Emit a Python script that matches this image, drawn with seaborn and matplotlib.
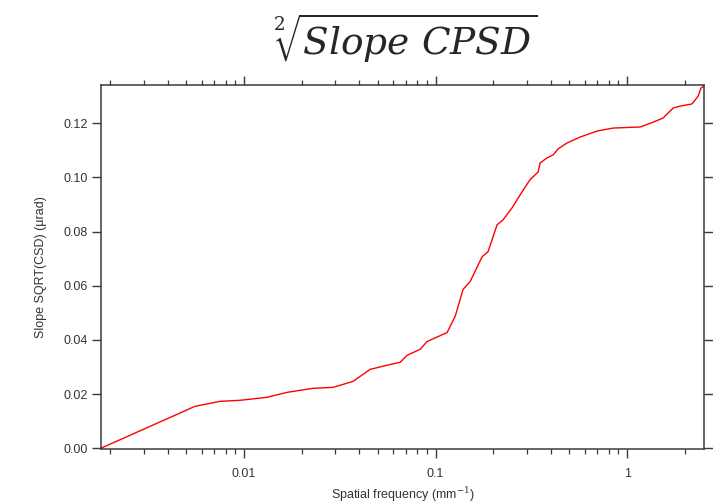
import matplotlib
matplotlib.use("Agg")
import matplotlib.pyplot as plt
import matplotlib.ticker as mticker
import numpy as np
import pandas as pd
import seaborn as sns

# ── Data ──────────────────────────────────────────────────────────────────────
freq = [0.00179, 0.00555, 0.0075, 0.00953, 0.01318, 0.0168, 0.0229, 0.0292,
        0.0371, 0.0455, 0.0578, 0.0653, 0.0710, 0.0830, 0.0903, 0.1148,
        0.1264, 0.131, 0.139, 0.1514, 0.175, 0.188, 0.2094, 0.225, 0.251,
        0.283, 0.311, 0.343, 0.351, 0.382, 0.411, 0.436, 0.486, 0.569,
        0.697, 0.845, 1.17, 1.37, 1.54, 1.74, 1.89, 2.18, 2.35, 2.43, 2.52]
slope = [0.0, 0.01547, 0.0173, 0.01768, 0.01878, 0.02063, 0.0221, 0.02247,
         0.02468, 0.0291, 0.0309, 0.0317, 0.0343, 0.0365, 0.0394, 0.0427,
         0.0486, 0.0523, 0.0586, 0.0615, 0.0707, 0.0726, 0.0825, 0.0843,
         0.0888, 0.0947, 0.0991, 0.1020, 0.1053, 0.1072, 0.1083, 0.1105,
         0.1127, 0.1149, 0.1171, 0.1182, 0.1186, 0.1204, 0.1219, 0.1256,
         0.1263, 0.1271, 0.1300, 0.1330, 0.1337]

df = pd.DataFrame({"freq": freq, "slope": slope})

sns.set_style("ticks")
plt.rcParams["font.family"] = ["Liberation Sans", "DejaVu Sans"]
plt.rcParams["mathtext.fontset"] = "dejavuserif"

fig = plt.figure(figsize=(7.13, 5.04), dpi=100)
ax = fig.add_axes([101 / 713, 55 / 504, 603 / 713, 364 / 504])

sns.lineplot(data=df, x="freq", y="slope", ax=ax, color="#ff0000",
             linewidth=1.0, estimator=None, sort=False)

ax.set_xscale("log")
ax.set_xlim(0.00179, 2.52)
ax.set_ylim(-0.0003, 0.1341)

ax.xaxis.set_major_locator(mticker.LogLocator(base=10))
ax.xaxis.set_minor_locator(mticker.LogLocator(base=10, subs=np.arange(2, 10)))
ax.xaxis.set_major_formatter(mticker.FuncFormatter(lambda v, p: f"{v:g}"))
ax.xaxis.set_minor_formatter(mticker.NullFormatter())
ax.yaxis.set_major_locator(mticker.MultipleLocator(0.02))
ax.yaxis.set_major_formatter(mticker.FormatStrFormatter("%.2f"))

spine_col = "#3a3a3a"
for s in ax.spines.values():
    s.set_visible(True)
    s.set_color(spine_col)
    s.set_linewidth(1.1)

ax.tick_params(axis="both", which="major", direction="out", length=6.5,
               width=1.0, color=spine_col, labelsize=9, labelcolor="#333333",
               top=True, right=True, labeltop=False, labelright=False)
ax.tick_params(axis="x", which="major", pad=7)
ax.tick_params(axis="y", which="major", pad=3)
ax.tick_params(axis="x", which="minor", direction="out", length=3.5,
               width=0.9, color=spine_col, top=True)

ax.set_xlabel("Spatial frequency (mm$^{-1}$)", fontsize=9, color="#333333",
              labelpad=4)
ax.set_ylabel("Slope SQRT(CSD) (µrad)", fontsize=9, color="#333333",
              labelpad=12)

fig.text(405 / 713, 1 - 38 / 504, r"$\sqrt[2]{Slope\ CPSD}$", fontsize=27,
         ha="center", va="center")

fig.savefig("out.png", dpi=100)
